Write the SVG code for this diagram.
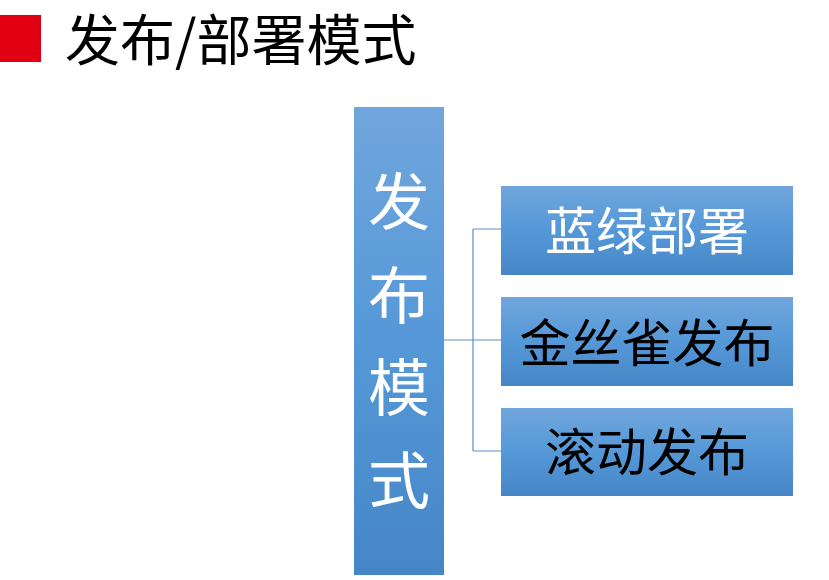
<svg xmlns="http://www.w3.org/2000/svg" width="829" height="580" viewBox="0 0 829 580">
<defs>
<linearGradient id="g" x1="0" y1="0" x2="0" y2="1">
<stop offset="0" stop-color="#70a6dc"/>
<stop offset="0.5" stop-color="#5598d8"/>
<stop offset="1" stop-color="#4686c6"/>
</linearGradient>
<style>
.t{font-family:"Noto Sans CJK SC","Noto Sans CJK JP",sans-serif;text-anchor:middle}
.box{fill:url(#g)}
.conn{fill:none;stroke:#5e8ec4;stroke-width:1.2}
</style>
</defs>
<rect width="829" height="580" fill="#ffffff"/>
<g id="title">
<rect x="0" y="15" width="41" height="47" fill="#e00012"/>
<text x="65" y="60" font-family="Noto Sans CJK SC, sans-serif" font-size="55" fill="#000">发布/部署模式</text>
</g>
<g id="connectors">
<path class="conn" d="M444 340 H473 M473 229 V451 M473 229 H501 M473 340 H501 M473 451 H501"/>
</g>
<g id="root">
<rect class="box" x="354" y="107" width="90" height="468"/>
<text class="t" x="399" y="225" font-size="62" fill="#fff">发</text>
<text class="t" x="399" y="319" font-size="62" fill="#fff">布</text>
<text class="t" x="399" y="411" font-size="62" fill="#fff">模</text>
<text class="t" x="399" y="504" font-size="62" fill="#fff">式</text>
</g>
<g id="bluegreen">
<rect class="box" x="501" y="186" width="292" height="89"/>
<text class="t" x="647" y="250" font-size="51" fill="#fff">蓝绿部署</text>
</g>
<g id="canary">
<rect class="box" x="501" y="297" width="292" height="89"/>
<text class="t" x="647" y="362" font-size="51" fill="#000">金丝雀发布</text>
</g>
<g id="rolling">
<rect class="box" x="501" y="408" width="292" height="88"/>
<text class="t" x="647" y="471" font-size="51" fill="#000">滚动发布</text>
</g>
</svg>
